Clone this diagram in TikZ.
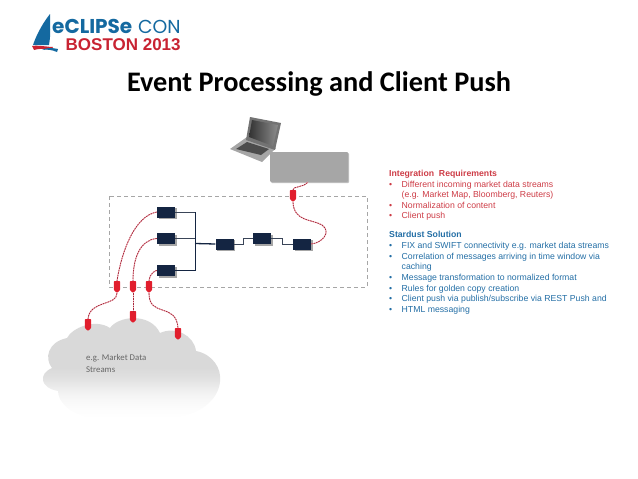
\documentclass[tikz,border=0pt]{standalone}
\usepackage{fontspec}
\setmainfont{Liberation Sans}
\newfontfamily\titlefont{Carlito}
\newfontfamily\logofont{Poppins}
\usetikzlibrary{shadows,calc}
\definecolor{navy}{RGB}{20,37,66}
\definecolor{plugred}{RGB}{225,30,45}
\definecolor{linkred}{RGB}{165,40,60}
\definecolor{reqred}{RGB}{205,60,70}
\definecolor{solblue}{RGB}{35,110,165}
\definecolor{logoblue}{RGB}{20,105,160}
\definecolor{logored}{RGB}{200,35,50}
\pgfdeclareverticalshading{cloudfade}{100bp}{rgb(0bp)=(1,1,1);rgb(25bp)=(1,1,1);rgb(29bp)=(.99,.99,.99);rgb(34bp)=(.97,.97,.97);rgb(39bp)=(.93,.93,.93);rgb(44bp)=(.88,.88,.88);rgb(49bp)=(.85,.85,.85);rgb(100bp)=(.85,.85,.85)}
\tikzset{
 stepbox/.style={rectangle,fill=navy,minimum width=18pt,minimum height=11pt,inner sep=0,
   drop shadow={shadow xshift=1.5pt,shadow yshift=-1.5pt,opacity=.35,fill=black}},
 plug/.style={rectangle,minimum width=6.4pt,minimum height=12pt,inner sep=0,
   path picture={\fill[plugred,rounded corners=.8pt] (path picture bounding box.north west) -- (path picture bounding box.north east) -- ($(path picture bounding box.east)+(0,-3pt)$) -- (path picture bounding box.south) -- ($(path picture bounding box.west)+(0,-3pt)$) -- cycle;}},
 redlink/.style={linkred,line width=.8pt,dash pattern=on 1.6pt off .9pt,
   preaction={draw=plugred!30,solid,line width=1pt}},
 bus/.style={navy,line width=.9pt},
 stub/.style={draw=navy!65!gray,line width=.9pt},
 stepline/.style={draw=navy!65!gray,line width=1pt},
 reqtext/.style={anchor=north west,inner sep=0,text=reqred,font=\fontsize{8.7}{10.6}\selectfont,align=left},
 soltext/.style={anchor=north west,inner sep=0,text=solblue,font=\fontsize{8.7}{10.6}\selectfont,align=left},
}
\begin{document}
\begin{tikzpicture}[x=1pt,y=-1pt]
\useasboundingbox (0,0) rectangle (638,479);
% logo
\fill[logoblue] (50,14) .. controls (42,24) and (36,36) .. (33,45) -- (49,45) .. controls (51,34) and (50,24) .. (50,14) -- cycle;
\fill[logored] (32,46) .. controls (38,45) and (48,47) .. (53,47) -- (51,50) .. controls (42,48) and (38,49) .. (34,50) -- cycle;
\fill[logoblue] (42,50) .. controls (47,47) and (53,48) .. (58,49) -- (57,52) .. controls (52,50) and (48,49) .. (42,50) -- cycle;
\node (eclipse) [anchor=base west,inner sep=0,text height=14pt,text depth=0pt,text=logoblue,font=\logofont\bfseries\fontsize{20}{20}\selectfont] at (52,33) {eCLIPSe};
\node (con) [anchor=base west,inner sep=0,text height=14pt,text depth=0pt,text=logoblue,font=\logofont\fontsize{18.8}{18.8}\selectfont] at (138,33) {CON};
\node (boston) [anchor=base west,inner sep=0,text height=12pt,text depth=0pt,text=logored,font=\bfseries\fontsize{17}{17}\selectfont] at (65.5,50) {BOSTON 2013};
% title
\node (title) [anchor=center,inner sep=0,font=\titlefont\bfseries\fontsize{28.3}{28.3}\selectfont] at (319,84) {Event Processing and Client Push};
% cloud
\shade[shading=cloudfade]
 (52,368) .. controls (44,358) and (48,342) .. (67,338)
 .. controls (72,328) and (95,318) .. (110,328)
 .. controls (118,316) and (150,312) .. (160,333)
 .. controls (175,326) and (194,335) .. (196,351)
 .. controls (212,354) and (222,368) .. (220,382)
 .. controls (218,400) and (200,416) .. (170,418)
 -- (90,418) .. controls (70,414) and (58,402) .. (58,391)
 .. controls (40,388) and (38,374) .. (52,368) -- cycle;
\node (cloudtext) [anchor=north west,inner sep=0,text=black!60,align=left,font=\titlefont\fontsize{8.8}{11.2}\selectfont] at (86,354.5) {e.g. Market Data\\Streams};
% boundary
\draw[gray!70,dash pattern=on 4pt off 3pt,line width=.5pt] (109,196) rectangle (367,287);
% laptop
\fill[black!35] (230,149) -- (247,137) -- (276,148) -- (262,162) -- cycle;
\fill[black!70] (236,149) -- (247,142) -- (269,149) -- (261,155) -- cycle;
\fill[black!55] (250,117) -- (281,123) -- (275,150) -- (246,140) -- cycle;
\shade[left color=black!80,right color=black!45] (252,120) -- (278,125) -- (273,146) -- (249,137) -- cycle;
% server box
\node (server) [rectangle,fill=black!35,minimum width=78pt,minimum height=30pt,inner sep=0,rounded corners=1pt,
   drop shadow={shadow xshift=1pt,shadow yshift=-1pt,opacity=.25,fill=black}] at (309,167) {};
% boxes
\node (b1) [stepbox] at (166,212) {};
\node (b2) [stepbox] at (166,238.5) {};
\node (b3) [stepbox] at (166,270.5) {};
\node (b4) [stepbox] at (224.5,244) {};
\node (b5) [stepbox] at (262,238.5) {};
\node (b6) [stepbox] at (302,244) {};
\coordinate (busA) at (195,243.5);
\draw[stub] (b1.east) -- (b1.east -| busA);
\draw[stub] (b2.east) -- (b2.east -| busA);
\draw[bus] (b3.east) -- (b3.east -| busA) -- (b1.east -| busA);
\draw[bus,line width=1.3pt] (busA) -- (b4.west);
\draw[stepline] (b4.east) -- ++(9.5,0) -- ++(0,-5.5) -- (b5.west);
\draw[stepline] (b5.east) -- ++(11,0) -- ++(0,5.5) -- (b6.west);
% plugs
\node (p1) [plug] at (117,287) {};
\node (p2) [plug] at (133,287) {};
\node (p3) [plug] at (149,287) {};
\node (p4) [plug] at (293,196) {};
\node (c1) [plug] at (88,325) {};
\node (c2) [plug] at (133,317) {};
\node (c3) [plug] at (178,334) {};
\coordinate (s1) at (308,182);
% connectors
\draw[redlink] (b1.west) .. controls (135,216) and (122,250) .. (p1.north);
\draw[redlink] (b2.west) .. controls (140,240) and (133,258) .. (p2.north);
\draw[redlink] (b3.west) .. controls (156,270) and (149,274) .. (p3.north);
\draw[redlink] (p1.south) .. controls (117,306) and (90,300) .. (c1.north);
\draw[redlink] (p2.south) -- (c2.north);
\draw[redlink] (p3.south) .. controls (149,318) and (176,302) .. (c3.north);
\draw[redlink] (b6.east) .. controls (322,243) and (332,232) .. (322,225) .. controls (312,219) and (294,222) .. (p4.south);
\draw[redlink] (p4.north) .. controls (293,186) and (303,188) .. (s1);
% text
\node (req) [reqtext] at (389,169.5) {\bfseries Integration\ \ Requirements};
\node (reqlist) [reqtext] at (389,180.5) {%
\makebox[12.5pt][l]{•}Different incoming market data streams\\
\makebox[12.5pt][l]{}(e.g. Market Map, Bloomberg, Reuters)\\
\makebox[12.5pt][l]{•}Normalization of content\\
\makebox[12.5pt][l]{•}Client push};
\node (sol) [soltext] at (389,231.3) {\bfseries Stardust Solution};
\node (sollist) [soltext] at (389,242.2) {%
\makebox[12.5pt][l]{•}FIX and SWIFT connectivity e.g. market data streams\\
\makebox[12.5pt][l]{•}Correlation of messages arriving in time window via\\
\makebox[12.5pt][l]{}caching\\
\makebox[12.5pt][l]{•}Message transformation to normalized format\\
\makebox[12.5pt][l]{•}Rules for golden copy creation\\
\makebox[12.5pt][l]{•}Client push via publish/subscribe via REST Push and\\
\makebox[12.5pt][l]{•}HTML messaging};
\end{tikzpicture}
\end{document}
